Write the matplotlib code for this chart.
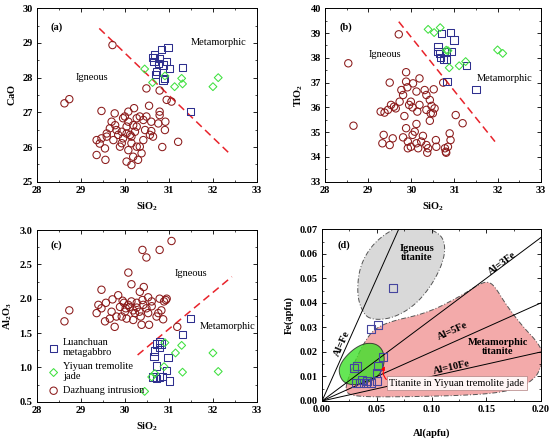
import numpy as np
import matplotlib
matplotlib.use("Agg")
import matplotlib.pyplot as plt
from matplotlib.patches import Polygon
from matplotlib.ticker import MultipleLocator

plt.rcParams['font.family'] = ['Liberation Serif', 'DejaVu Serif']
plt.rcParams['mathtext.fontset'] = 'custom'
plt.rcParams['mathtext.rm'] = 'Liberation Serif'
plt.rcParams['mathtext.bf'] = 'Liberation Serif:bold'
plt.rcParams['mathtext.it'] = 'Liberation Serif:italic'

# ---------------- data: panel (a) SiO2 vs CaO ----------------
dz_a_sio2 = [29.72, 28.63, 28.74, 30.49, 30.79, 30.95, 31.06, 31.21, 30.85, 29.47, 29.77, 30.08, 30.21,
             30.55, 30.79, 30.79, 30.92, 30.91, 30.76, 29.36, 29.56, 29.55, 29.43, 29.36, 29.47, 29.59,
             29.66, 29.78, 29.74, 29.85, 29.93, 29.96, 30.00, 30.04, 30.08, 30.15, 30.19, 30.27, 30.34,
             30.42, 30.49, 30.60, 30.46, 30.60, 30.57, 30.42, 30.27, 30.38, 30.30, 30.19, 30.04, 30.15,
             30.08, 29.93, 29.96, 30.12, 30.23, 29.89, 29.81, 29.70, 29.59, 30.15, 30.04, 30.64, 30.34, 30.27]
dz_a_cao = [28.94, 27.26, 27.38, 27.69, 27.63, 27.36, 27.31, 26.15, 26.00, 27.04, 26.97, 27.02, 27.12,
            27.19, 27.02, 26.92, 26.73, 26.49, 26.68, 25.77, 25.63, 25.96, 26.10, 26.20, 26.25, 26.39,
            26.54, 26.63, 26.20, 26.35, 26.44, 26.83, 26.88, 26.59, 26.73, 26.30, 26.63, 26.83, 26.88,
            26.78, 26.88, 26.73, 26.49, 26.46, 26.35, 26.20, 26.01, 25.82, 25.63, 25.72, 25.58, 25.48,
            25.91, 26.11, 26.25, 26.35, 26.44, 26.01, 26.49, 26.73, 26.30, 26.11, 26.39, 26.30, 26.01, 26.59]
lu_a_sio2 = [30.98, 30.83, 30.68, 30.64, 30.66, 30.79, 30.94, 30.87, 31.02, 31.31, 30.72, 30.70, 30.90, 30.87, 31.49, 30.76]
lu_a_cao = [28.87, 28.82, 28.65, 28.59, 28.46, 28.56, 28.46, 28.37, 28.27, 28.30, 28.17, 28.10, 27.98, 27.93, 27.02, 28.41]
yy_a_sio2 = [30.45, 30.63, 30.91, 31.29, 31.31, 31.13, 32.00, 32.12]
yy_a_cao = [28.25, 27.86, 28.05, 27.98, 27.82, 27.74, 27.74, 28.00]
line_a_x = [29.42, 32.37]
line_a_y = [29.42, 25.82]

# ---------------- data: panel (b) SiO2 vs TiO2 ----------------
dz_b_sio2 = [29.71, 28.54, 28.66, 29.88, 29.50, 29.88, 30.04, 30.19, 30.74, 29.77, 29.91, 30.12, 30.31,
             30.52, 30.35, 29.81, 29.73, 29.53, 29.60, 29.64, 29.46, 29.29, 29.38, 29.99, 29.95, 30.03,
             30.14, 30.19, 30.43, 30.47, 30.54, 30.35, 30.45, 30.50, 29.84, 30.43, 31.03, 31.19, 30.12,
             29.88, 30.08, 30.03, 29.81, 29.57, 29.36, 29.33, 29.50, 29.92, 30.27, 29.92, 29.99, 30.12,
             30.16, 30.35, 30.39, 30.37, 30.57, 30.58, 30.78, 30.80, 30.81, 30.89, 30.91, 30.85, 30.23]
dz_b_tio2 = [38.95, 37.78, 35.26, 37.42, 37.00, 37.04, 36.97, 37.17, 37.00, 36.70, 36.81, 36.64, 36.70,
             36.73, 36.50, 36.50, 36.23, 36.10, 36.03, 35.96, 35.90, 35.83, 35.79, 36.23, 36.10, 36.00,
             35.83, 36.10, 36.30, 36.06, 35.96, 35.90, 35.76, 35.76, 35.65, 35.46, 35.69, 35.36, 35.33,
             35.16, 35.02, 34.89, 34.79, 34.75, 34.89, 34.55, 34.48, 34.62, 34.85, 34.35, 34.41, 34.55,
             34.35, 34.48, 34.35, 34.17, 34.68, 34.41, 34.35, 34.21, 34.17, 34.95, 34.68, 34.41, 34.62]
lu_b_sio2 = [30.70, 30.91, 30.99, 30.62, 30.62, 30.66, 30.68, 30.74, 30.81, 30.93, 31.28, 31.50, 30.83, 30.81]
lu_b_tio2 = [38.99, 39.02, 38.72, 38.45, 38.25, 38.18, 38.02, 37.94, 37.94, 38.25, 37.68, 36.73, 37.04, 38.25]
yy_b_sio2 = [30.39, 30.53, 30.67, 30.85, 30.88, 31.11, 31.26, 32.00, 32.12, 30.81]
yy_b_tio2 = [39.15, 39.02, 39.22, 38.29, 37.60, 37.68, 37.85, 38.32, 38.18, 38.31]
line_b_x = [29.71, 31.94]
line_b_y = [39.46, 34.62]

# ---------------- data: panel (c) SiO2 vs Al2O3 ----------------
dz_c_sio2 = [31.06, 30.40, 30.79, 30.49, 30.08, 30.15, 30.43, 30.34, 29.47, 28.63, 28.74, 29.36, 29.40,
             29.47, 29.57, 29.55, 29.72, 29.70, 29.77, 29.85, 29.81, 29.89, 29.95, 29.98, 30.00, 30.04,
             30.08, 30.11, 30.15, 30.19, 30.23, 30.19, 30.27, 30.33, 30.36, 30.42, 30.40, 30.49, 30.53,
             30.38, 30.55, 30.61, 30.61, 30.76, 30.83, 30.79, 30.89, 30.95, 30.93, 30.87, 30.72, 31.19,
             29.93, 29.66, 30.27, 30.02, 30.53]
dz_c_al2o3 = [2.84, 2.71, 2.71, 2.60, 2.38, 2.21, 2.17, 2.10, 2.13, 1.67, 1.83, 1.79, 1.91,
              1.86, 1.94, 1.67, 1.99, 1.81, 1.59, 2.05, 1.74, 1.88, 1.97, 1.94, 1.81, 1.71,
              1.91, 1.88, 1.96, 1.83, 1.79, 1.69, 1.87, 1.81, 1.74, 1.91, 1.98, 1.86, 1.79,
              1.62, 1.62, 1.89, 1.96, 1.79, 1.83, 2.00, 1.96, 2.00, 1.98, 1.70, 1.74, 1.59,
              1.74, 1.71, 1.94, 1.86, 2.02]
lu_c_sio2 = [31.49, 31.31, 30.78, 30.83, 30.78, 30.73, 30.68, 30.66, 30.72, 30.98, 30.95, 30.86, 31.02, 30.64, 30.72, 30.79]
lu_c_al2o3 = [1.71, 1.48, 1.37, 1.34, 1.29, 1.34, 1.24, 1.16, 1.02, 1.14, 0.95, 0.87, 0.80, 0.86, 0.84, 0.86]
yy_c_sio2 = [30.45, 30.61, 30.68, 30.89, 30.91, 31.15, 31.29, 31.31, 32.00, 32.12]
yy_c_al2o3 = [0.65, 0.86, 0.91, 1.01, 1.36, 1.21, 1.32, 0.93, 1.21, 0.94]
line_c_x = [30.29, 32.43]
line_c_y = [1.18, 2.32]

# ---------------- data: panel (d) Al vs Fe (apfu) ----------------
yy_d_al = [0.065, 0.045, 0.0514, 0.0556, 0.0293, 0.0323, 0.0514, 0.0498, 0.0308, 0.0369, 0.0414, 0.045, 0.0505, 0.0347, 0.0399]
yy_d_fe = [0.046, 0.0294, 0.0310, 0.0181, 0.0133, 0.0143, 0.0144, 0.0113, 0.0075, 0.0086, 0.0083, 0.0075, 0.0082, 0.0072, 0.0072]
ratio_k = [1, 3, 5, 10]
ratio_labels = ['Al=Fe', 'Al=3Fe', 'Al=5Fe', 'Al=10Fe']
ratio_label_pos = [(0.0185, 0.0235), (0.165, 0.0562), (0.119, 0.0283), (0.1184, 0.0138)]
igneous_field = [(0.047, 0.0333), (0.040, 0.0345), (0.0345, 0.039), (0.0323, 0.0445), (0.0335, 0.052),
                 (0.038, 0.058), (0.046, 0.0635), (0.056, 0.0675), (0.066, 0.0702), (0.080, 0.0712),
                 (0.095, 0.0705), (0.105, 0.0688), (0.111, 0.066), (0.1125, 0.061), (0.109, 0.055),
                 (0.101, 0.048), (0.090, 0.0415), (0.078, 0.037), (0.066, 0.0343), (0.056, 0.0333)]
metamorphic_field = [(0.0215, 0.0055), (0.0255, 0.0113), (0.0320, 0.0180), (0.0395, 0.0245), (0.0474, 0.0292),
                     (0.0625, 0.0325), (0.0958, 0.0358), (0.126, 0.0426), (0.144, 0.0478), (0.1517, 0.0487),
                     (0.1577, 0.0468), (0.168, 0.0393), (0.183, 0.0305), (0.1975, 0.0237), (0.203, 0.018),
                     (0.1985, 0.0125), (0.1955, 0.0100), (0.186, 0.0065), (0.168, 0.0038), (0.138, 0.0024),
                     (0.0776, 0.0017), (0.035, 0.0017), (0.0230, 0.0029)]
jade_field = [(0.015, 0.0125), (0.018, 0.0160), (0.024, 0.0192), (0.031, 0.0218), (0.039, 0.0235),
              (0.048, 0.0235), (0.054, 0.0217), (0.057, 0.0185), (0.0565, 0.0145), (0.053, 0.011),
              (0.046, 0.0083), (0.036, 0.0068), (0.025, 0.0066), (0.018, 0.0083)]

C_DZ = '#8B1A1A'
C_LU = '#2E2F8E'
C_YY = '#3FE03F'
C_LINE = '#E8232B'


def chaikin(pts, n=3):
    p = np.asarray(pts, dtype=float)
    for _ in range(n):
        q = np.roll(p, -1, axis=0)
        a = 0.75 * p + 0.25 * q
        b = 0.25 * p + 0.75 * q
        p = np.empty((2 * len(a), 2))
        p[0::2] = a
        p[1::2] = b
    return p


fig = plt.figure(figsize=(5.5, 4.41), dpi=100)
W, H = 550.0, 441.0


def add_ax(l, r, t, b):
    return fig.add_axes([l / W, 1 - b / H, (r - l) / W, (b - t) / H])


ax_a = add_ax(36.7, 257.0, 8.3, 181.7)
ax_b = add_ax(325.0, 540.7, 8.3, 181.7)
ax_c = add_ax(36.7, 257.0, 230.0, 401.7)
ax_d = add_ax(322.0, 541.0, 229.3, 401.0)

TFS = 7.5
LFS = 7.5


def style(ax):
    ax.tick_params(which='both', direction='in', top=True, right=True, labelsize=TFS, pad=3)
    ax.tick_params(which='major', length=3, width=0.6)
    ax.tick_params(which='minor', length=1.6, width=0.5)
    for lab in ax.get_xticklabels() + ax.get_yticklabels():
        lab.set_fontweight('bold')
    for s in ax.spines.values():
        s.set_linewidth(0.7)


def scatter3(ax, dx, dy, lx, ly, yx, yy):
    ax.scatter(dx, dy, s=28, facecolors='none', edgecolors=C_DZ, linewidths=0.75, marker='o', zorder=3,
               label='Dazhuang intrusion')
    ax.scatter(lx, ly, s=28, facecolors='none', edgecolors=C_LU, linewidths=0.75, marker='s', zorder=4,
               label='Luanchuan\nmetagabbro')
    ax.scatter(yx, yy, s=16, facecolors='none', edgecolors=C_YY, linewidths=0.75, marker='D', zorder=4,
               label='Yiyuan tremolite\njade')


# panel (a)
scatter3(ax_a, dz_a_sio2, dz_a_cao, lu_a_sio2, lu_a_cao, yy_a_sio2, yy_a_cao)
ax_a.plot(line_a_x, line_a_y, color=C_LINE, lw=1.1, dashes=(5, 3), zorder=2)
ax_a.set_xlim(28, 33)
ax_a.set_ylim(25, 30)
ax_a.xaxis.set_major_locator(MultipleLocator(1))
ax_a.xaxis.set_minor_locator(MultipleLocator(0.5))
ax_a.yaxis.set_major_locator(MultipleLocator(1))
ax_a.yaxis.set_minor_locator(MultipleLocator(0.5))
ax_a.set_xlabel(r'$\mathbf{SiO_2}$', fontsize=LFS)
ax_a.set_ylabel(r'$\mathbf{CaO}$', fontsize=LFS)
ax_a.text(28.45, 29.45, '(a)', fontsize=7.5, fontweight='bold', ha='center', va='center')
ax_a.text(29.25, 28.0, 'Igneous', fontsize=7.5, ha='center', va='center')
ax_a.text(32.12, 29.0, 'Metamorphic', fontsize=7.5, ha='center', va='center')
style(ax_a)

# panel (b)
scatter3(ax_b, dz_b_sio2, dz_b_tio2, lu_b_sio2, lu_b_tio2, yy_b_sio2, yy_b_tio2)
ax_b.plot(line_b_x, line_b_y, color=C_LINE, lw=1.1, dashes=(5, 3), zorder=2)
ax_b.set_xlim(28, 33)
ax_b.set_ylim(33, 40)
ax_b.xaxis.set_major_locator(MultipleLocator(1))
ax_b.xaxis.set_minor_locator(MultipleLocator(0.5))
ax_b.yaxis.set_major_locator(MultipleLocator(1))
ax_b.yaxis.set_minor_locator(MultipleLocator(0.5))
ax_b.set_xlabel(r'$\mathbf{SiO_2}$', fontsize=LFS)
ax_b.set_ylabel(r'$\mathbf{TiO_2}$', fontsize=LFS)
ax_b.text(28.49, 39.23, '(b)', fontsize=7.5, fontweight='bold', ha='center', va='center')
ax_b.text(29.38, 38.14, 'Igneous', fontsize=7.5, ha='center', va='center')
ax_b.text(32.16, 37.15, 'Metamorphic', fontsize=7.5, ha='center', va='center')
style(ax_b)

# panel (c)
scatter3(ax_c, dz_c_sio2, dz_c_al2o3, lu_c_sio2, lu_c_al2o3, yy_c_sio2, yy_c_al2o3)
ax_c.plot(line_c_x, line_c_y, color=C_LINE, lw=1.1, dashes=(5, 3), zorder=2)
ax_c.set_xlim(28, 33)
ax_c.set_ylim(0.5, 3.0)
ax_c.xaxis.set_major_locator(MultipleLocator(1))
ax_c.xaxis.set_minor_locator(MultipleLocator(0.5))
ax_c.yaxis.set_major_locator(MultipleLocator(0.5))
ax_c.yaxis.set_minor_locator(MultipleLocator(0.25))
ax_c.yaxis.set_major_formatter(matplotlib.ticker.FormatStrFormatter('%.1f'))
ax_c.set_xlabel(r'$\mathbf{SiO_2}$', fontsize=LFS)
ax_c.set_ylabel(r'$\mathbf{Al_2O_3}$', fontsize=LFS)
ax_c.text(28.44, 2.78, '(c)', fontsize=7.5, fontweight='bold', ha='center', va='center')
ax_c.text(31.51, 2.36, 'Igneous', fontsize=7.5, ha='center', va='center')
ax_c.text(32.34, 1.59, 'Metamorphic', fontsize=7.5, ha='center', va='center')
h, l = ax_c.get_legend_handles_labels()
order = [1, 2, 0]
ax_c.legend([h[i] for i in order], [l[i] for i in order], loc='lower left', frameon=False, fontsize=7.5,
            handletextpad=0.3, borderaxespad=0.2, labelspacing=0.45, handlelength=1.2,
            bbox_to_anchor=(0.02, 0.0))
style(ax_c)

# panel (d)
ax_d.set_xlim(0, 0.2)
ax_d.set_ylim(0, 0.07)
ax_d.add_patch(Polygon(chaikin(metamorphic_field), closed=True, facecolor='#F3AAAA', edgecolor='#555555',
                       lw=0.7, linestyle=(0, (5, 2, 1, 2)), zorder=1))
ax_d.add_patch(Polygon(chaikin(igneous_field), closed=True, facecolor='#D9D9D9', edgecolor='#555555',
                       lw=0.7, linestyle=(0, (5, 2, 1, 2)), zorder=1))
ax_d.add_patch(Polygon(chaikin(jade_field), closed=True, facecolor='#3FE02A', alpha=0.8, edgecolor='#222222',
                       lw=0.7, zorder=2))
xx = np.array([0.0, 0.25])
for k in ratio_k:
    ax_d.plot(xx, xx / k, color='black', lw=0.7, zorder=3)
ax_d.scatter(yy_d_al, yy_d_fe, s=32, marker='s', facecolors='none', edgecolors='#45459E', linewidths=0.8, zorder=4)
for k, lab, (px, py) in zip(ratio_k, ratio_labels, ratio_label_pos):
    p0 = ax_d.transData.transform((0, 0))
    p1 = ax_d.transData.transform((0.1, 0.1 / k))
    ang = np.degrees(np.arctan2(p1[1] - p0[1], p1[0] - p0[0]))
    ax_d.text(px, py, lab, fontsize=7.5, fontweight='bold', rotation=ang, rotation_mode='anchor',
              ha='center', va='center', zorder=5)
ax_d.text(0.020, 0.0636, '(d)', fontsize=7.5, fontweight='bold', ha='center', va='center')
ax_d.text(0.0867, 0.0602, 'Igneous\ntitanite', fontsize=7.5, fontweight='bold', ha='center', va='center',
          linespacing=1.0)
ax_d.text(0.1607, 0.0222, 'Metamorphic\ntitanite', fontsize=7.5, fontweight='bold', ha='center', va='center',
          linespacing=1.0)
ax_d.annotate('Titanite in Yiyuan tremolite jade', xy=(0.0572, 0.0142), xytext=(0.123, 0.0072),
              fontsize=7.5, ha='center', va='center', zorder=6,
              bbox=dict(boxstyle='square,pad=0.25', facecolor='#FFF5F5', edgecolor='#B08080', lw=0.5),
              arrowprops=dict(arrowstyle='-|>', color='red', lw=0.8, mutation_scale=5,
                              connectionstyle='arc3,rad=-0.4', shrinkA=0, shrinkB=0,
                              relpos=(0.0, 0.65)))
ax_d.xaxis.set_major_locator(MultipleLocator(0.05))
ax_d.xaxis.set_minor_locator(MultipleLocator(0.025))
ax_d.yaxis.set_major_locator(MultipleLocator(0.01))
ax_d.yaxis.set_minor_locator(MultipleLocator(0.005))
ax_d.xaxis.set_major_formatter(matplotlib.ticker.FormatStrFormatter('%.2f'))
ax_d.yaxis.set_major_formatter(matplotlib.ticker.FormatStrFormatter('%.2f'))
ax_d.set_xlabel('Al(apfu)', fontsize=LFS, fontweight='bold', labelpad=10)
ax_d.set_ylabel('Fe(apfu)', fontsize=LFS, fontweight='bold')
style(ax_d)

fig.savefig('out.png', dpi=100)
